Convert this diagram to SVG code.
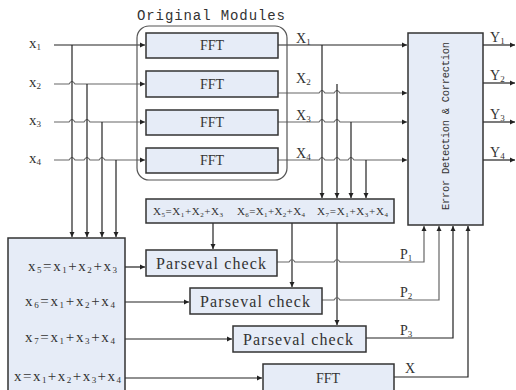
<svg xmlns="http://www.w3.org/2000/svg" width="516" height="390" viewBox="0 0 516 390">
<defs>
<marker id="ar" markerWidth="6" markerHeight="6" refX="5" refY="3" orient="auto" markerUnits="userSpaceOnUse">
<path d="M0,0.5 L5,3 L0,5.5 Z" fill="#222"/>
</marker>
</defs>
<style>
.box{fill:#e6ecf7;stroke:#333;stroke-width:1.5}
.dk{fill:none;stroke:#222;stroke-width:1.2}
.gr{fill:none;stroke:#666;stroke-width:1.2}
.ser{font-family:"Liberation Serif","Times New Roman",serif;fill:#333}
.mono{font-family:"Liberation Mono","Courier New",monospace;fill:#333}
.sub{font-size:9px}
</style>
<rect width="516" height="390" fill="#fff"/>

<g id="connectors">
<path class="dk" d="M54,45 H145" marker-end="url(#ar)"/>
<path class="gr" d="M54,84 H69 q3,-5 6,0 H145" marker-end="url(#ar)"/>
<path class="gr" d="M54,122 H69 q3,-5 6,0 H84 q3,-5 6,0 H145" marker-end="url(#ar)"/>
<path class="gr" d="M54,160 H69 q3,-5 6,0 H84 q3,-5 6,0 H99 q3,-5 6,0 H145" marker-end="url(#ar)"/>
<path class="dk" d="M72,45 V237" marker-end="url(#ar)"/>
<path class="dk" d="M87,84 V237" marker-end="url(#ar)"/>
<path class="dk" d="M102,122 V237" marker-end="url(#ar)"/>
<path class="dk" d="M116,160 V237" marker-end="url(#ar)"/>
<path class="dk" d="M278,45 H407" marker-end="url(#ar)"/>
<path class="gr" d="M278,93 H319 q3,-5 6,0 H334 q3,-5 6,0 H407" marker-end="url(#ar)"/>
<path class="gr" d="M278,122 H319 q3,-5 6,0 H334 q3,-5 6,0 H407" marker-end="url(#ar)"/>
<path class="gr" d="M278,160 H319 q3,-5 6,0 H334 q3,-5 6,0 H348 q3,-5 6,0 H407" marker-end="url(#ar)"/>
<path class="dk" d="M322,45 V198" marker-end="url(#ar)"/>
<path class="dk" d="M337,84 V198" marker-end="url(#ar)"/>
<path class="dk" d="M351,122 V198" marker-end="url(#ar)"/>
<path class="dk" d="M366,160 V198" marker-end="url(#ar)"/>
<path class="dk" d="M483,45 H515" marker-end="url(#ar)"/>
<path class="dk" d="M483,83 H515" marker-end="url(#ar)"/>
<path class="dk" d="M483,122 H515" marker-end="url(#ar)"/>
<path class="dk" d="M483,160 H515" marker-end="url(#ar)"/>
<path class="dk" d="M213,223 V249" marker-end="url(#ar)"/>
<path class="dk" d="M292,223 V287" marker-end="url(#ar)"/>
<path class="dk" d="M337,223 V325" marker-end="url(#ar)"/>
<path class="dk" d="M125,267 H145" marker-end="url(#ar)"/>
<path class="dk" d="M125,302 H189" marker-end="url(#ar)"/>
<path class="dk" d="M125,339 H232" marker-end="url(#ar)"/>
<path class="dk" d="M125,378 H262" marker-end="url(#ar)"/>
<path class="gr" d="M277,262 H289 q3,-5 6,0 H334 q3,-5 6,0 H424 V226" marker-end="url(#ar)"/>
<path class="gr" d="M322,300 H334 q3,-5 6,0 H439 V226" marker-end="url(#ar)"/>
<path class="dk" d="M366,338 H453 V226" marker-end="url(#ar)"/>
<path class="dk" d="M394,377 H468 V226" marker-end="url(#ar)"/>
</g>

<g id="original-modules">
<rect x="137" y="26" width="150" height="154" rx="12" fill="none" stroke="#555" stroke-width="1.2"/>
<text class="mono" x="137" y="20" font-size="14" textLength="148">Original Modules</text>
</g>

<g id="fft1"><rect class="box" x="146" y="33" width="132" height="25"/><text class="ser" x="212" y="50" font-size="14" text-anchor="middle">FFT</text></g>
<g id="fft2"><rect class="box" x="146" y="71" width="132" height="26"/><text class="ser" x="212" y="89" font-size="14" text-anchor="middle">FFT</text></g>
<g id="fft3"><rect class="box" x="146" y="110" width="132" height="25"/><text class="ser" x="212" y="127" font-size="14" text-anchor="middle">FFT</text></g>
<g id="fft4"><rect class="box" x="146" y="148" width="132" height="25"/><text class="ser" x="212" y="165" font-size="14" text-anchor="middle">FFT</text></g>

<g id="inputs" class="ser" font-size="15">
<text x="29" y="48">x<tspan class="sub" dy="2">1</tspan></text>
<text x="29" y="87">x<tspan class="sub" dy="2">2</tspan></text>
<text x="29" y="125">x<tspan class="sub" dy="2">3</tspan></text>
<text x="29" y="163">x<tspan class="sub" dy="2">4</tspan></text>
</g>

<g id="fft-outputs" class="ser" font-size="14">
<text x="296" y="43">X<tspan class="sub" dy="2">1</tspan></text>
<text x="296" y="83">X<tspan class="sub" dy="2">2</tspan></text>
<text x="296" y="120">X<tspan class="sub" dy="2">3</tspan></text>
<text x="296" y="158">X<tspan class="sub" dy="2">4</tspan></text>
</g>

<g id="edc">
<rect class="box" x="408" y="33" width="75" height="192"/>
<text class="mono" transform="translate(449,126) rotate(-90)" font-size="10.5" text-anchor="middle" textLength="168">Error Detection &amp; Correction</text>
</g>

<g id="outputs" class="ser" font-size="14">
<text x="490" y="42">Y<tspan class="sub" dy="2">1</tspan></text>
<text x="490" y="80">Y<tspan class="sub" dy="2">2</tspan></text>
<text x="490" y="119">Y<tspan class="sub" dy="2">3</tspan></text>
<text x="490" y="157">Y<tspan class="sub" dy="2">4</tspan></text>
</g>

<g id="xs-box">
<rect class="box" x="146" y="199" width="248" height="24"/>
<text class="ser" x="153" y="215" font-size="11" textLength="70">X<tspan font-size="7" dy="2">5</tspan><tspan dy="-2">=X</tspan><tspan font-size="7" dy="2">1</tspan><tspan dy="-2">+X</tspan><tspan font-size="7" dy="2">2</tspan><tspan dy="-2">+X</tspan><tspan font-size="7" dy="2">3</tspan></text>
<text class="ser" x="237" y="215" font-size="11" textLength="68">X<tspan font-size="7" dy="2">6</tspan><tspan dy="-2">=X</tspan><tspan font-size="7" dy="2">1</tspan><tspan dy="-2">+X</tspan><tspan font-size="7" dy="2">2</tspan><tspan dy="-2">+X</tspan><tspan font-size="7" dy="2">4</tspan></text>
<text class="ser" x="317" y="215" font-size="11" textLength="71">X<tspan font-size="7" dy="2">7</tspan><tspan dy="-2">=X</tspan><tspan font-size="7" dy="2">1</tspan><tspan dy="-2">+X</tspan><tspan font-size="7" dy="2">3</tspan><tspan dy="-2">+X</tspan><tspan font-size="7" dy="2">4</tspan></text>
</g>

<g id="left-box">
<rect class="box" x="8" y="238" width="117" height="160"/>
<g class="ser" font-size="15">
<text x="28" y="271" textLength="89">x<tspan class="sub" dy="2">5</tspan><tspan dy="-2">=x</tspan><tspan class="sub" dy="2">1</tspan><tspan dy="-2">+x</tspan><tspan class="sub" dy="2">2</tspan><tspan dy="-2">+x</tspan><tspan class="sub" dy="2">3</tspan></text>
<text x="25" y="306" textLength="90">x<tspan class="sub" dy="2">6</tspan><tspan dy="-2">=x</tspan><tspan class="sub" dy="2">1</tspan><tspan dy="-2">+x</tspan><tspan class="sub" dy="2">2</tspan><tspan dy="-2">+x</tspan><tspan class="sub" dy="2">4</tspan></text>
<text x="25" y="342" textLength="90">x<tspan class="sub" dy="2">7</tspan><tspan dy="-2">=x</tspan><tspan class="sub" dy="2">1</tspan><tspan dy="-2">+x</tspan><tspan class="sub" dy="2">3</tspan><tspan dy="-2">+x</tspan><tspan class="sub" dy="2">4</tspan></text>
<text x="14" y="381" textLength="107">x=x<tspan class="sub" dy="2">1</tspan><tspan dy="-2">+x</tspan><tspan class="sub" dy="2">2</tspan><tspan dy="-2">+x</tspan><tspan class="sub" dy="2">3</tspan><tspan dy="-2">+x</tspan><tspan class="sub" dy="2">4</tspan></text>
</g>
</g>

<g id="pc1"><rect class="box" x="146" y="250" width="131" height="26"/><text class="ser" x="156" y="269" font-size="16" textLength="110">Parseval check</text></g>
<g id="pc2"><rect class="box" x="190" y="288" width="132" height="26"/><text class="ser" x="200" y="307" font-size="16" textLength="110">Parseval check</text></g>
<g id="pc3"><rect class="box" x="233" y="326" width="133" height="26"/><text class="ser" x="243" y="345" font-size="16" textLength="110">Parseval check</text></g>

<g id="fft5"><rect class="box" x="263" y="364" width="131" height="30"/><text class="ser" x="328" y="383" font-size="14" text-anchor="middle">FFT</text></g>

<g id="p-labels" class="ser" font-size="14">
<text x="400" y="259">P<tspan class="sub" dy="2">1</tspan></text>
<text x="400" y="297">P<tspan class="sub" dy="2">2</tspan></text>
<text x="400" y="335">P<tspan class="sub" dy="2">3</tspan></text>
<text x="405" y="373">X</text>
</g>
</svg>
